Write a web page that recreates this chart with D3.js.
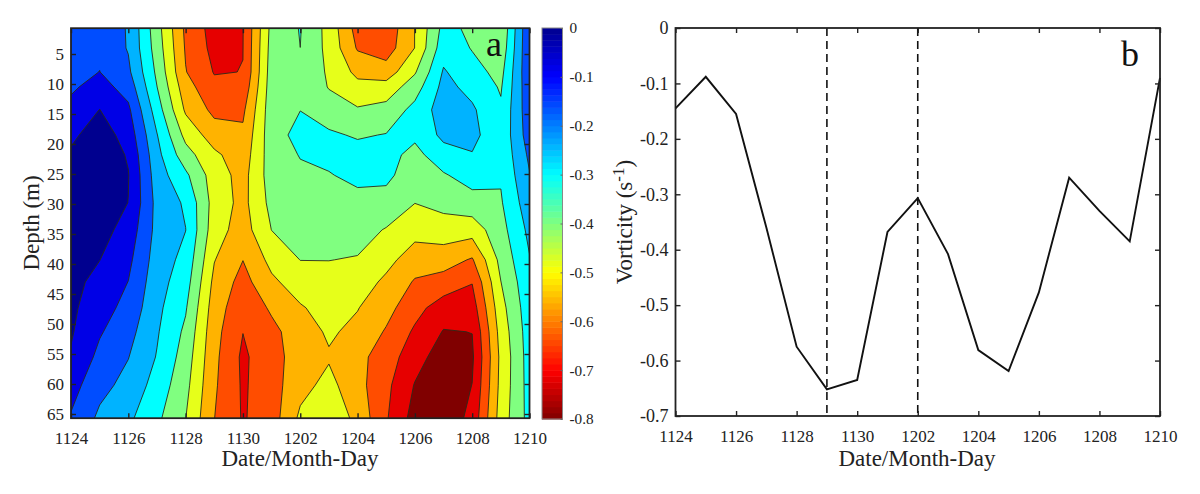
<!DOCTYPE html>
<html>
<head>
<meta charset="utf-8">
<script src="https://d3js.org/d3.v7.min.js"></script>
<style>
  html, body { margin: 0; padding: 0; background: #fff; }
  svg { display: block; }
  text { font-family: "Liberation Serif", serif; fill: #222; }
  .domain { display: none; }
  .tick line { stroke: #222; stroke-width: 1.4; }
  .tick text { font-family: "Liberation Serif", serif; fill: #222; }
</style>
</head>
<body>
<svg id="chart" width="1200" height="494"></svg>
<script>
// x axis: one entry per day
const dates = ["1124","1125","1126","1127","1128","1129","1130","1201","1202","1203","1204","1205","1206","1207","1208","1209","1210"];
const depthLevels = [0.7,4,8,10.5,14.3,18.5,21.8,25.2,29.8,34.3,39.3,43,47.3,51.3,55.5,60.2,65.7];
const depthTicks = [5,10,15,20,25,30,35,40,45,50,55,60,65];
const vortTicks = [0,-0.1,-0.2,-0.3,-0.4,-0.5,-0.6,-0.7];
const barTicks = [0,-0.1,-0.2,-0.3,-0.4,-0.5,-0.6,-0.7,-0.8];
const eventDates = ["1129","1202"];

// panel a, one list per date, top to bottom through depthLevels
const vorticityByDate = [
  [-.219,-.212,-.198,-.181,-.149,-.114,-.090,-.072,-.065,-.065,-.072,-.079,-.086,-.093,-.107,-.142,-.177],
  [-.198,-.184,-.169,-.142,-.099,-.065,-.051,-.044,-.051,-.072,-.099,-.121,-.142,-.163,-.188,-.219,-.254],
  [-.245,-.245,-.226,-.198,-.156,-.128,-.107,-.097,-.101,-.128,-.153,-.171,-.191,-.216,-.238,-.261,-.296],
  [-.422,-.412,-.394,-.379,-.345,-.307,-.289,-.275,-.261,-.261,-.272,-.282,-.293,-.303,-.314,-.338,-.366],
  [-.604,-.597,-.587,-.562,-.531,-.471,-.422,-.366,-.320,-.309,-.331,-.349,-.373,-.394,-.412,-.429,-.449],
  [-.688,-.681,-.664,-.643,-.608,-.555,-.506,-.485,-.478,-.489,-.517,-.538,-.555,-.566,-.573,-.580,-.589],
  [-.662,-.661,-.659,-.639,-.604,-.576,-.559,-.545,-.541,-.552,-.589,-.615,-.639,-.659,-.673,-.669,-.666],
  [-.429,-.422,-.415,-.412,-.408,-.408,-.412,-.415,-.429,-.449,-.499,-.534,-.580,-.608,-.613,-.620,-.624],
  [-.3765,-.3801,-.387,-.387,-.381,-.359,-.377,-.391,-.408,-.426,-.449,-.485,-.527,-.555,-.562,-.543,-.506],
  [-.474,-.471,-.461,-.454,-.415,-.370,-.363,-.384,-.408,-.429,-.449,-.471,-.492,-.510,-.527,-.499,-.464],
  [-.618,-.597,-.538,-.499,-.443,-.387,-.356,-.363,-.401,-.426,-.454,-.485,-.517,-.538,-.569,-.566,-.541],
  [-.639,-.625,-.558,-.492,-.426,-.377,-.356,-.363,-.408,-.454,-.499,-.534,-.566,-.597,-.625,-.643,-.653],
  [-.519,-.519,-.457,-.412,-.359,-.366,-.401,-.422,-.449,-.496,-.555,-.597,-.636,-.671,-.702,-.734,-.758],
  [-.359,-.338,-.303,-.289,-.275,-.293,-.338,-.387,-.429,-.482,-.559,-.618,-.695,-.734,-.765,-.779,-.779],
  [-.394,-.384,-.356,-.331,-.300,-.289,-.314,-.349,-.408,-.489,-.597,-.657,-.695,-.729,-.741,-.729,-.709],
  [-.443,-.429,-.401,-.387,-.370,-.363,-.366,-.373,-.387,-.405,-.429,-.451,-.475,-.492,-.503,-.499,-.489],
  [-.177,-.177,-.181,-.188,-.195,-.205,-.226,-.244,-.268,-.293,-.314,-.328,-.338,-.345,-.349,-.352,-.356]
];

// contour levels and the fill above each one
const contourLevels = [-.73,-.66,-.59,-.52,-.45,-.38,-.31,-.24,-.17,-.10];
const bandColors = ["#800000","#e60000","#ff4d00","#ffb300","#e6ff1a","#80ff80","#00ffff","#00b3ff","#004dff","#0000e6","#00008f"];
const jetColors = ["#800000","#ff0000","#ffff00","#00ffff","#0000ff","#00008f"];
const jetStops = [-.8,-.7,-.5,-.3,-.1,0];

// panel b, depth mean per date
const meanVorticity = [-.145,-.088,-.155,-.36,-.575,-.652,-.635,-.368,-.307,-.408,-.581,-.619,-.477,-.27,-.33,-.385,-.09];

const svg = d3.select("#chart");
const ink = "#222";
const tickFont = 17;
const titleFont = 23;

function frame(g, x0, x1, y0, y1) {
  g.append("rect").attr("x", x0).attr("y", y0).attr("width", x1 - x0).attr("height", y1 - y0)
    .attr("fill", "none").attr("stroke", ink).attr("stroke-width", 1.8);
}

function dateAxes(g, x, y0, y1) {
  const labelled = d3.range(0, dates.length, 2);
  g.append("g").attr("transform", `translate(0,${y1})`)
    .call(d3.axisBottom(x).tickValues(labelled).tickFormat(i => dates[i]).tickSizeInner(-5).tickSizeOuter(0).tickPadding(14))
    .selectAll("text").style("font-size", tickFont + "px");
  g.append("g").attr("transform", `translate(0,${y0})`)
    .call(d3.axisTop(x).tickValues(labelled).tickFormat("").tickSizeInner(-5).tickSizeOuter(0));
}

// ---------- panel a ----------
const ax = d3.scaleLinear().domain([0, dates.length - 1]).range([71, 529.5]);
const ay = d3.scaleLinear().domain([5, 65]).range([54, 414]);
const rowDepth = d3.scaleLinear().domain(d3.range(depthLevels.length)).range(depthLevels);

const nx = dates.length, ny = depthLevels.length;
const grid = d3.range(ny).flatMap(r => d3.range(nx).map(c => vorticityByDate[c][r]));
const contours = d3.contours().size([nx, ny]).thresholds(contourLevels)(grid);

// d3.contours puts cell centres on +0.5, so shift back before scaling
const gridPath = d3.geoPath(d3.geoTransform({
  point(px, py) { this.stream.point(ax(px - 0.5), ay(rowDepth(py - 0.5))); }
}));

const aTop = ay(depthLevels[0]), aBottom = ay(depthLevels[ny - 1]);
svg.append("clipPath").attr("id", "plot-a").append("rect")
  .attr("x", ax(0)).attr("y", aTop).attr("width", ax(nx - 1) - ax(0)).attr("height", aBottom - aTop);

const panelA = svg.append("g");
const fills = panelA.append("g").attr("clip-path", "url(#plot-a)");
fills.append("rect").attr("x", ax(0)).attr("y", aTop).attr("width", ax(nx - 1) - ax(0)).attr("height", aBottom - aTop)
  .attr("fill", bandColors[0]);
fills.selectAll("path").data(contours).join("path")
  .attr("d", gridPath)
  .attr("fill", (d, i) => bandColors[i + 1])
  .attr("stroke", "#2a2a1a").attr("stroke-width", 0.9).attr("stroke-linejoin", "round");

dateAxes(panelA, ax, aTop, aBottom);
panelA.append("g").attr("transform", `translate(${ax(0)},0)`)
  .call(d3.axisLeft(ay).tickValues(depthTicks).tickSizeInner(-5).tickSizeOuter(0).tickPadding(7))
  .selectAll("text").style("font-size", tickFont + "px");
panelA.append("g").attr("transform", `translate(${ax(nx - 1)},0)`)
  .call(d3.axisRight(ay).tickValues(depthTicks).tickFormat("").tickSizeInner(-5).tickSizeOuter(0));
frame(panelA, ax(0), ax(nx - 1), aTop, aBottom);

panelA.append("text").attr("x", 300).attr("y", 466).attr("text-anchor", "middle")
  .style("font-size", titleFont + "px").text("Date/Month-Day");
panelA.append("text").attr("transform", "translate(39,223) rotate(-90)").attr("text-anchor", "middle")
  .style("font-size", titleFont + "px").text("Depth (m)");
panelA.append("text").attr("x", 494).attr("y", 56).attr("text-anchor", "middle")
  .style("font-size", "36px").style("fill", "#111").text("a");

// ---------- colour bar ----------
const barY = d3.scaleLinear().domain([0, -0.8]).range([28, 419]);
const jet = d3.scaleLinear().domain(jetStops).range(jetColors);
const barSteps = d3.range(64).map(i => -0.8 + i * 0.8 / 64);
const bar = svg.append("g");
bar.selectAll("rect").data(barSteps).join("rect")
  .attr("x", 542).attr("width", 20.5)
  .attr("y", d => barY(d + 0.8 / 64))
  .attr("height", d => barY(d) - barY(d + 0.8 / 64) + 0.5)
  .attr("fill", d => jet(d + 0.4 / 64));
bar.append("rect").attr("x", 542).attr("y", 28).attr("width", 20.5).attr("height", 391)
  .attr("fill", "none").attr("stroke", "#888").attr("stroke-width", 1);
bar.append("g").attr("transform", "translate(562.5,0)")
  .call(d3.axisRight(barY).tickValues(barTicks).tickFormat(d => d === 0 ? "0" : d3.format(".1f")(d).replace("\u2212", "-"))
    .tickSizeInner(-2).tickSizeOuter(0).tickPadding(7))
  .call(g => g.selectAll("line").style("stroke", "#666").style("stroke-width", 1))
  .selectAll("text").style("font-size", "15.2px");

// ---------- panel b ----------
const bx = d3.scaleLinear().domain([0, dates.length - 1]).range([675.5, 1160]);
const by = d3.scaleLinear().domain([0, -0.7]).range([28, 416]);
const panelB = svg.append("g");

panelB.selectAll("line.event").data(eventDates).join("line").attr("class", "event")
  .attr("x1", d => bx(dates.indexOf(d))).attr("x2", d => bx(dates.indexOf(d)))
  .attr("y1", by(0)).attr("y2", by(-0.7))
  .attr("stroke", "#111").attr("stroke-width", 1.6).attr("stroke-dasharray", "8,5");

panelB.append("path").datum(meanVorticity)
  .attr("d", d3.line().x((d, i) => bx(i)).y(d => by(d)))
  .attr("fill", "none").attr("stroke", "#111").attr("stroke-width", 1.9).attr("stroke-linejoin", "miter");

dateAxes(panelB, bx, by(0), by(-0.7));
panelB.append("g").attr("transform", `translate(${bx(0)},0)`)
  .call(d3.axisLeft(by).tickValues(vortTicks).tickFormat(d => d === 0 ? "0" : d3.format(".1f")(d).replace("\u2212", "-"))
    .tickSizeInner(-5).tickSizeOuter(0).tickPadding(7))
  .selectAll("text").style("font-size", "18px");
panelB.append("g").attr("transform", `translate(${bx(dates.length - 1)},0)`)
  .call(d3.axisRight(by).tickValues(vortTicks).tickFormat("").tickSizeInner(-5).tickSizeOuter(0));
frame(panelB, bx(0), bx(dates.length - 1), by(0), by(-0.7));

panelB.append("text").attr("x", 917).attr("y", 466).attr("text-anchor", "middle")
  .style("font-size", titleFont + "px").text("Date/Month-Day");
const vLabel = panelB.append("text").attr("transform", "translate(632,222) rotate(-90)").attr("text-anchor", "middle")
  .style("font-size", titleFont + "px");
vLabel.append("tspan").text("Vorticity (s");
vLabel.append("tspan").attr("dy", -8).style("font-size", "17px").text("-1");
vLabel.append("tspan").attr("dy", 8).text(")");
panelB.append("text").attr("x", 1130).attr("y", 66).attr("text-anchor", "middle")
  .style("font-size", "36px").style("fill", "#111").text("b");
</script>
</body>
</html>
